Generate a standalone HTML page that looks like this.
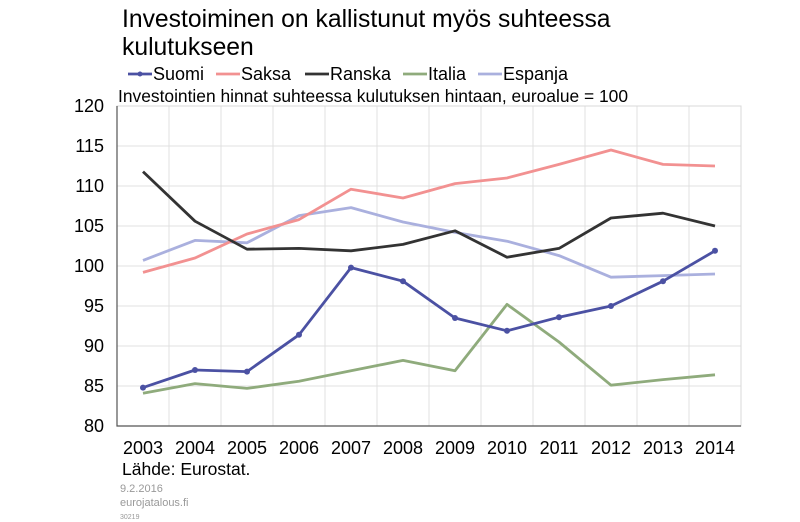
<!DOCTYPE html>
<html><head><meta charset="utf-8"><style>
body{margin:0;background:#fff;font-family:"Liberation Sans",sans-serif;}
svg{display:block}
</style></head><body>
<svg id="c" width="800" height="522" xmlns="http://www.w3.org/2000/svg">
<text x="122" y="27" font-size="24.7" fill="#000">Investoiminen on kallistunut myös suhteessa</text>
<text x="122" y="55" font-size="24.7" fill="#000">kulutukseen</text>
<text x="118" y="102" font-size="17.4" fill="#000">Investointien hinnat suhteessa kulutuksen hintaan, euroalue = 100</text>
<text x="122" y="475" font-size="17.5" fill="#000">Lähde: Eurostat.</text>
<text x="120" y="492" font-size="11" fill="#999">9.2.2016</text>
<text x="120" y="506" font-size="11" fill="#999">eurojatalous.fi</text>
<text x="120" y="519" font-size="7" fill="#999">30219</text>
<g id="grid"></g><g id="series"></g><g id="legend"></g>
</svg>
<script>
const years=[2003,2004,2005,2006,2007,2008,2009,2010,2011,2012,2013,2014];
const yTicks=[80,85,90,95,100,105,110,115,120];
const suomi=[84.8,87.0,86.8,91.4,99.8,98.1,93.5,91.9,93.6,95.0,98.1,101.9];
const saksa=[99.2,101.0,104.0,105.8,109.6,108.5,110.3,111.0,112.7,114.5,112.7,112.5];
const ranska=[111.8,105.6,102.1,102.2,101.9,102.7,104.4,101.1,102.2,106.0,106.6,105.0];
const italia=[84.1,85.3,84.7,85.6,86.9,88.2,86.9,95.2,90.5,85.1,85.8,86.4];
const espanja=[100.7,103.2,102.9,106.3,107.3,105.5,104.2,103.1,101.3,98.6,98.8,99.0];
const names=["Suomi","Saksa","Ranska","Italia","Espanja"];
const colors=["#4b51a3","#f29191","#333333","#8fab7c","#aab0de"];
const data=[suomi,saksa,ranska,italia,espanja];
const NS="http://www.w3.org/2000/svg";
const L=117,R=741,T=106,B=426;
const bw=(R-L)/years.length;
const x=i=>L+bw*(i+0.5);
const y=v=>B-(v-80)/40*(B-T);
function mk(tag,at,parent){const e=document.createElementNS(NS,tag);for(const k in at)e.setAttribute(k,at[k]);parent.appendChild(e);return e;}
const g=document.getElementById('grid');
yTicks.forEach(v=>{
 const l=mk('line',{x1:L,x2:R,y1:y(v),y2:y(v),stroke:'#e0e0e0','stroke-width':1},g);
 
 
 const t=mk('text',{x:L-13,y:y(v)+6,'font-size':18,'text-anchor':'end',fill:'#000'},g);
 t.textContent=v;
 
 
});
years.forEach((yr,i)=>{
 if(i>0){const l=mk('line',{x1:L+bw*i,x2:L+bw*i,y1:T,y2:B,stroke:'#e0e0e0'},g);
 
 }
 const t=mk('text',{x:x(i),y:454,'font-size':18,'text-anchor':'middle',fill:'#000'},g);
 t.textContent=yr;
 
 
});
const fr=mk('rect',{x:L,y:T,width:R-L,height:B-T,fill:'none',stroke:'#d8d8d8'},g);


const ax=mk('path',{d:`M${L},${T}V${B}H${R}`,fill:'none',stroke:'#555','stroke-width':1.2},g);


const s=document.getElementById('series');
[4,3,1,2,0].forEach(k=>{
 const p=mk('polyline',{points:data[k].map((v,i)=>x(i)+','+y(v)).join(' '),fill:'none',stroke:colors[k],'stroke-width':2.8,'stroke-linejoin':'round'},s);
 
 
 if(k===0)data[k].forEach((v,i)=>{const c=mk('circle',{cx:x(i),cy:y(v),r:3,fill:colors[k]},s);
 
 });
});
const lg=document.getElementById('legend');
const lx=[128,216,305,403,478];
names.forEach((n,k)=>{
 const l=mk('line',{x1:lx[k],x2:lx[k]+24,y1:74,y2:74,stroke:colors[k],'stroke-width':2.8},lg);
 
 
 if(k===0){const c=mk('circle',{cx:lx[k]+12,cy:74,r:2.5,fill:colors[k]},lg);
 
 }
 const t=mk('text',{x:lx[k]+25,y:80,'font-size':18,fill:'#000'},lg);
 t.textContent=n;
 
 
});
</script>
</body></html>
